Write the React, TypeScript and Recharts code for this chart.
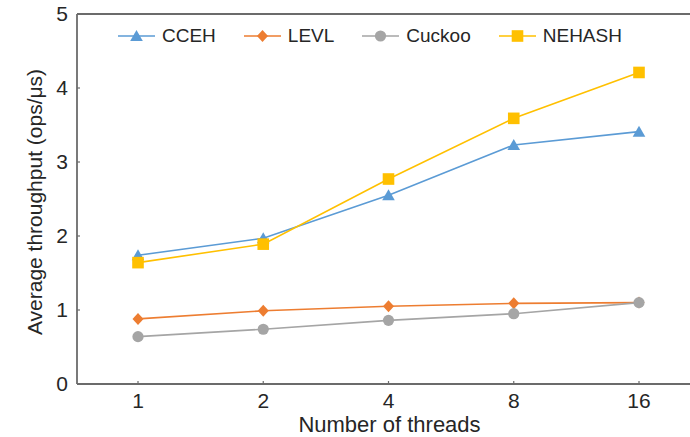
import React from 'react';
import { LineChart, Line, XAxis, YAxis, Legend, ReferenceLine } from 'recharts';

const threads = ['1', '2', '4', '8', '16'];
const ccehValues = [1.74, 1.97, 2.55, 3.23, 3.41];
const levlValues = [0.88, 0.99, 1.05, 1.09, 1.1];
const cuckooValues = [0.64, 0.74, 0.86, 0.95, 1.1];
const nehashValues = [1.64, 1.89, 2.77, 3.59, 4.21];
const yTicks = [0, 1, 2, 3, 4, 5];

const data = threads.map((t, i) => ({
  threads: t,
  CCEH: ccehValues[i],
  LEVL: levlValues[i],
  Cuckoo: cuckooValues[i],
  NEHASH: nehashValues[i],
}));

type Shape = 'triangle' | 'diamond' | 'circle' | 'square';

const series: { key: string; color: string; shape: Shape }[] = [
  { key: 'CCEH', color: '#5B9BD5', shape: 'triangle' },
  { key: 'LEVL', color: '#ED7D31', shape: 'diamond' },
  { key: 'Cuckoo', color: '#A5A5A5', shape: 'circle' },
  { key: 'NEHASH', color: '#FFC000', shape: 'square' },
];

const FONT = '"Liberation Sans", Arial, sans-serif';
const AXIS = '#6b6b6b';

function marker(shape: Shape, cx: number, cy: number, color: string, key?: any) {
  if (shape === 'triangle') {
    return (
      <polygon key={key} points={`${cx},${cy - 6} ${cx + 6.3},${cy + 5} ${cx - 6.3},${cy + 5}`} fill={color} />
    );
  }
  if (shape === 'diamond') {
    return (
      <polygon key={key} points={`${cx},${cy - 6} ${cx + 5.5},${cy} ${cx},${cy + 6} ${cx - 5.5},${cy}`} fill={color} />
    );
  }
  if (shape === 'circle') {
    return <circle key={key} cx={cx} cy={cy} r={5.6} fill={color} />;
  }
  return <rect key={key} x={cx - 5.8} y={cy - 5.8} width={11.6} height={11.6} fill={color} />;
}

const LegendContent = () => (
  <div style={{ display: 'flex', alignItems: 'center', fontFamily: FONT, fontSize: 19, color: '#262626' }}>
    {series.map((s) => (
      <div key={s.key} style={{ display: 'flex', alignItems: 'center', marginRight: 28 }}>
        <svg width={37} height={14} style={{ display: 'block' }}>
          <line x1={0} y1={7} x2={37} y2={7} stroke={s.color} strokeWidth={1.5} />
          {marker(s.shape, 18.5, 7, s.color)}
        </svg>
        <span style={{ marginLeft: 7, lineHeight: '22px' }}>{s.key}</span>
      </div>
    ))}
  </div>
);

export default function App() {
  return (
    <div style={{ width: 690, height: 437 }}>
      <style>{`body{margin:0}`}</style>
      <LineChart width={690} height={437} data={data} margin={{ top: 14, right: 0, bottom: 0, left: 0 }}>
        <ReferenceLine y={5} stroke={AXIS} strokeWidth={1.8} />
        <XAxis
          dataKey="threads"
          type="category"
          scale="point"
          padding={{ left: 61, right: 51 }}
          height={53}
          axisLine={{ stroke: AXIS, strokeWidth: 1.8 }}
          tickLine={{ stroke: AXIS, strokeWidth: 1.2 }}
          tickSize={-3}
          tickMargin={12}
          tick={{ fontSize: 21, fill: '#262626', fontFamily: FONT }}
          label={{
            value: 'Number of threads',
            position: 'insideBottom',
            offset: 5,
            dx: 6,
            style: { fontSize: 22, fill: '#262626', fontFamily: FONT },
          }}
        />
        <YAxis
          domain={[0, 5]}
          ticks={yTicks}
          width={77}
          axisLine={{ stroke: AXIS, strokeWidth: 1.8 }}
          tickLine={{ stroke: AXIS, strokeWidth: 1.2 }}
          tickSize={-3}
          tickMargin={12}
          tick={{ fontSize: 21, fill: '#262626', fontFamily: FONT }}
          label={{
            value: 'Average throughput (ops/μs)',
            position: 'center',
            angle: -90,
            dx: -3.5,
            dy: 3,
            style: { fontSize: 21, fill: '#262626', fontFamily: FONT, textAnchor: 'middle' },
          }}
        />
        <Legend
          verticalAlign="middle"
          align="center"
          layout="horizontal"
          content={<LegendContent />}
          wrapperStyle={{ top: 25, left: 118, width: 'auto', height: 22 }}
        />
        {series.map((s) => (
          <Line
            key={s.key}
            dataKey={s.key}
            stroke={s.color}
            strokeWidth={1.6}
            isAnimationActive={false}
            dot={(p: any) => marker(s.shape, p.cx, p.cy, s.color, `${s.key}-${p.index}`)}
            activeDot={false}
          />
        ))}
      </LineChart>
    </div>
  );
}
